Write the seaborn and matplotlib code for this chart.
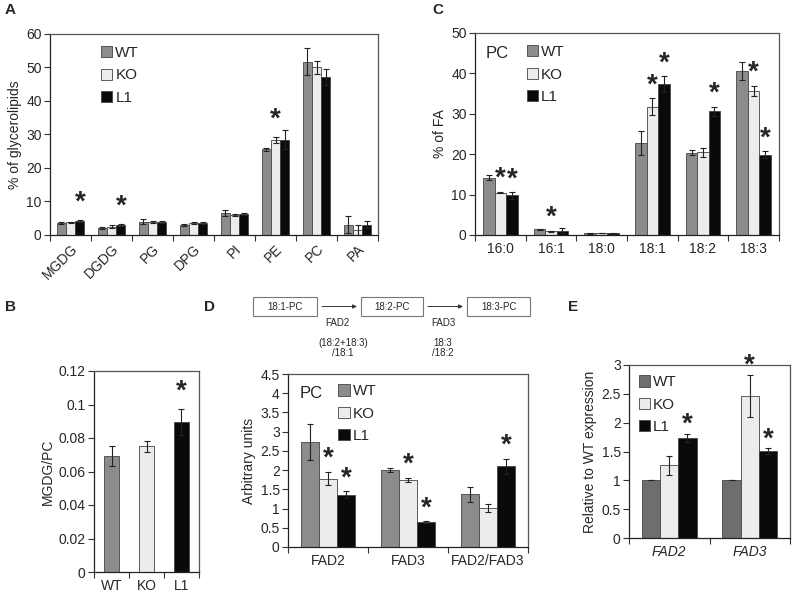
import numpy as np
import pandas as pd
import matplotlib
matplotlib.use("Agg")
import matplotlib.pyplot as plt
from matplotlib.patches import Patch, Rectangle
import seaborn as sns

sns.set_theme(style="ticks")
plt.rcParams["font.family"] = ["Liberation Sans", "DejaVu Sans"]

W, H = 793, 594
GENOTYPES = ["WT", "KO", "L1"]
COLORS = {"WT": "#8c8c8c", "KO": "#ececec", "L1": "#0a0a0a"}

# panel A: glycerolipid classes
lipids = ["MGDG", "DGDG", "PG", "DPG", "PI", "PE", "PC", "PA"]
a_wt = [3.6, 2.2, 4.0, 3.1, 6.6, 25.6, 51.7, 3.1]
a_ko = [3.8, 2.5, 4.0, 3.5, 6.1, 28.4, 50.0, 1.5]
a_l1 = [4.3, 2.9, 4.0, 3.7, 6.3, 28.5, 47.2, 3.1]
a_wt_err = [0.2, 0.3, 0.8, 0.3, 0.8, 0.5, 4.0, 2.6]
a_ko_err = [0.2, 0.5, 0.3, 0.3, 0.3, 0.9, 1.8, 1.5]
a_l1_err = [0.3, 0.3, 0.3, 0.3, 0.3, 2.7, 2.3, 1.1]
a_stars = [("MGDG", "L1"), ("DGDG", "L1"), ("PE", "KO")]

# panel C: PC fatty acids
fas = ["16:0", "16:1", "18:0", "18:1", "18:2", "18:3"]
c_wt = [14.2, 1.4, 0.4, 22.8, 20.4, 40.6]
c_ko = [10.5, 0.9, 0.5, 31.8, 20.5, 35.7]
c_l1 = [9.8, 1.1, 0.4, 37.4, 30.6, 19.9]
c_wt_err = [0.7, 0.2, 0.1, 2.9, 0.7, 2.3]
c_ko_err = [0.2, 0.1, 0.1, 2.0, 1.1, 1.2]
c_l1_err = [0.8, 0.7, 0.1, 1.9, 1.2, 0.8]
c_stars = [("16:0", "KO"), ("16:0", "L1"), ("16:1", "KO"), ("18:1", "KO"),
           ("18:1", "L1"), ("18:2", "L1"), ("18:3", "KO"), ("18:3", "L1")]

# panel B: MGDG/PC ratio
b_vals = [0.069, 0.075, 0.0895]
b_err = [0.006, 0.0035, 0.008]

# panel D: desaturation ratios
ratios = ["FAD2", "FAD3", "FAD2/FAD3"]
d_wt = [2.73, 2.00, 1.37]
d_ko = [1.78, 1.75, 1.02]
d_l1 = [1.36, 0.65, 2.10]
d_wt_err = [0.47, 0.06, 0.20]
d_ko_err = [0.17, 0.05, 0.10]
d_l1_err = [0.09, 0.02, 0.19]
d_stars = [("FAD2", "KO"), ("FAD2", "L1"), ("FAD3", "KO"), ("FAD3", "L1"), ("FAD2/FAD3", "L1")]

# panel E: expression
genes = ["FAD2", "FAD3"]
e_wt = [1.0, 1.0]
e_ko = [1.26, 2.46]
e_l1 = [1.74, 1.51]
e_wt_err = [0.0, 0.0]
e_ko_err = [0.16, 0.37]
e_l1_err = [0.07, 0.05]
e_stars = [("FAD2", "L1"), ("FAD3", "KO"), ("FAD3", "L1")]


def px_axes(fig, x0, x1, y0, y1):
    return fig.add_axes([x0 / W, 1 - y1 / H, (x1 - x0) / W, (y1 - y0) / H])


def long_df(cats, wt, ko, l1):
    rows = []
    for g, vals in zip(GENOTYPES, [wt, ko, l1]):
        for c, v in zip(cats, vals):
            rows.append({"cat": c, "geno": g, "val": v})
    return pd.DataFrame(rows)


def style_axes(ax, ncat, ylim, yticks, yfmt=None):
    ax.set_xlim(-0.5, ncat - 0.5)
    ax.set_ylim(*ylim)
    ax.set_yticks(yticks)
    if yfmt:
        ax.set_yticklabels([yfmt(t) for t in yticks])
    ax.set_xticks(np.arange(-0.5, ncat, 1.0), minor=True)
    ax.tick_params(axis="x", which="major", length=0, pad=5, labelsize=10)
    ax.tick_params(axis="x", which="minor", length=4, width=0.8, color="#333333", direction="out")
    ax.tick_params(axis="y", length=4, width=0.8, color="#333333", labelsize=10, pad=2)
    for s in ax.spines.values():
        s.set_visible(True)
        s.set_color("#555555")
        s.set_linewidth(0.9)
    ax.spines["bottom"].set_color("#222222")
    ax.spines["left"].set_color("#222222")
    ax.set_xlabel("")


def grouped(ax, cats, vals, errs, stars, ylim, yticks, ylabel, colors=COLORS,
            yfmt=None, star_off=3):
    df = long_df(cats, *vals)
    sns.barplot(data=df, x="cat", y="val", hue="geno", order=cats, hue_order=GENOTYPES,
                palette=colors, errorbar=None, width=0.68, edgecolor="#444444",
                linewidth=0.6, legend=False, ax=ax)
    tops = {}
    for g, cont, err in zip(GENOTYPES, ax.containers, errs):
        xs = [b.get_x() + b.get_width() / 2 for b in cont]
        hs = [b.get_height() for b in cont]
        ax.errorbar(xs, hs, yerr=err, fmt="none", ecolor="#222222", elinewidth=0.8,
                    capsize=2.5, capthick=0.8)
        for c, x, h, e in zip(cats, xs, hs, err):
            tops[(c, g)] = (x, h + e)
    for key in stars:
        x, y = tops[key]
        ax.annotate("*", (x, y), xytext=(0, star_off), textcoords="offset points",
                    ha="center", va="bottom", fontsize=20, fontweight="bold")
    style_axes(ax, len(cats), ylim, yticks, yfmt)
    ax.set_ylabel(ylabel, fontsize=10, labelpad=3)


def legend(ax, x, y, colors=COLORS):
    handles = [Patch(facecolor=colors[g], edgecolor="#444444", linewidth=0.6, label=g)
               for g in GENOTYPES]
    ax.legend(handles=handles, loc="upper left", bbox_to_anchor=(x, y), frameon=False,
              fontsize=11, handlelength=0.75, handleheight=0.75, handletextpad=0.2,
              labelspacing=0.55, borderaxespad=0, borderpad=0)


fig = plt.figure(figsize=(W / 100, H / 100), dpi=100)

# A
axA = px_axes(fig, 50, 378, 34, 235)
grouped(axA, lipids, [a_wt, a_ko, a_l1], [a_wt_err, a_ko_err, a_l1_err], a_stars,
        (0, 60), range(0, 61, 10), "% of glycerolipids")
for lab in axA.get_xticklabels():
    lab.set_rotation(45)
    lab.set_ha("right")
    lab.set_rotation_mode("anchor")
legend(axA, 0.155, 0.94)

# C
axC = px_axes(fig, 475, 779, 33, 235)
grouped(axC, fas, [c_wt, c_ko, c_l1], [c_wt_err, c_ko_err, c_l1_err], c_stars,
        (0, 50), range(0, 51, 10), "% of FA", star_off=0)
legend(axC, 0.17, 0.94)
axC.text(0.035, 0.9, "PC", transform=axC.transAxes, fontsize=12, va="center")

# B
axB = px_axes(fig, 94, 199, 371, 572)
dfB = pd.DataFrame({"geno": GENOTYPES, "val": b_vals})
sns.barplot(data=dfB, x="geno", y="val", hue="geno", palette=COLORS, errorbar=None,
            width=0.42, edgecolor="#444444", linewidth=0.6, legend=False, ax=axB)
bx = [c[0].get_x() + c[0].get_width() / 2 for c in axB.containers]
axB.errorbar(bx, b_vals, yerr=b_err, fmt="none", ecolor="#222222", elinewidth=0.8,
             capsize=2.5, capthick=0.8)
axB.annotate("*", (bx[2], b_vals[2] + b_err[2]), xytext=(0, 3), textcoords="offset points",
             ha="center", va="bottom", fontsize=20, fontweight="bold")
style_axes(axB, 3, (0, 0.12), [0, 0.02, 0.04, 0.06, 0.08, 0.1, 0.12],
           lambda t: "0" if t == 0 else f"{t:g}")
axB.set_ylabel("MGDG/PC", fontsize=10, labelpad=3)

# D
axD = px_axes(fig, 288, 528, 374, 547)
grouped(axD, ratios, [d_wt, d_ko, d_l1], [d_wt_err, d_ko_err, d_l1_err], d_stars,
        (0, 4.5), np.arange(0, 4.51, 0.5), "Arbitrary units", yfmt=lambda t: f"{t:g}",
        star_off=0)
legend(axD, 0.21, 0.94)
axD.text(0.05, 0.885, "PC", transform=axD.transAxes, fontsize=12, va="center")

# E
colorsE = dict(COLORS, WT="#6e6e6e")
axE = px_axes(fig, 629, 790, 365, 538)
grouped(axE, genes, [e_wt, e_ko, e_l1], [e_wt_err, e_ko_err, e_l1_err], e_stars,
        (0, 3), np.arange(0, 3.01, 0.5), "Relative to WT expression", colors=colorsE,
        yfmt=lambda t: f"{t:g}", star_off=-3)
for lab in axE.get_xticklabels():
    lab.set_style("italic")
legend(axE, 0.06, 0.94, colors=colorsE)

# pathway diagram above D and panel letters
ov = fig.add_axes([0, 0, 1, 1], zorder=-1)
ov.set_xlim(0, W)
ov.set_ylim(H, 0)
ov.axis("off")
boxes = [(253, 317, "18:1-PC"), (361, 423, "18:2-PC"), (467, 530, "18:3-PC")]
for x0, x1, t in boxes:
    ov.add_patch(Rectangle((x0, 297), x1 - x0, 19, fill=False, edgecolor="#777777", lw=0.8))
    ov.text((x0 + x1) / 2, 306.5, t, ha="center", va="center", fontsize=7)
for xa, xb in [(322, 357), (428, 463)]:
    ov.annotate("", xy=(xb, 306.5), xytext=(xa, 306.5),
                arrowprops=dict(arrowstyle="-|>", color="#333333", lw=0.7,
                                mutation_scale=6, shrinkA=0, shrinkB=0))
ov.text(337, 323, "FAD2", ha="center", va="center", fontsize=7)
ov.text(343, 343, "(18:2+18:3)", ha="center", va="center", fontsize=7)
ov.text(343, 353, "/18:1", ha="center", va="center", fontsize=7)
ov.text(443, 323, "FAD3", ha="center", va="center", fontsize=7)
ov.text(443, 343, "18:3", ha="center", va="center", fontsize=7)
ov.text(443, 353, "/18:2", ha="center", va="center", fontsize=7)

for x, y, t in [(5, 10, "A"), (432, 10, "C"), (5, 307, "B"), (204, 307, "D"), (568, 307, "E")]:
    ov.text(x, y, t, ha="left", va="center", fontsize=11, fontweight="bold")

fig.savefig("out.png", dpi=100)
